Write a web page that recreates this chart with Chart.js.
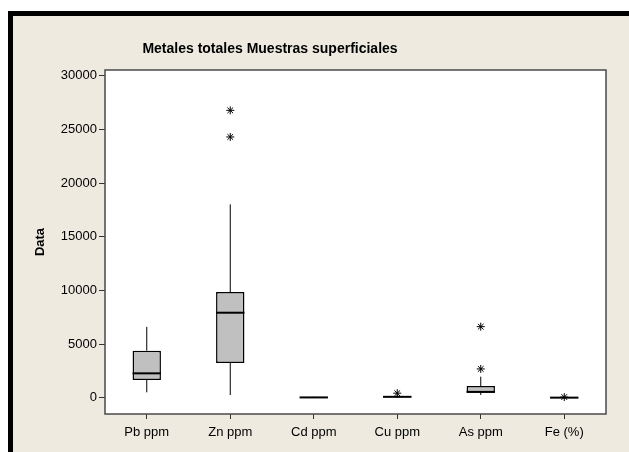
<!DOCTYPE html>
<html>
<head>
<meta charset="utf-8">
<script src="https://cdn.jsdelivr.net/npm/chart.js@4/dist/chart.umd.min.js"></script>
<style>
    html, body {
        margin: 0;
        padding: 0;
        background: #ffffff;
    }
    .frame {
        position: absolute;
        left: 8px;
        top: 11px;
        width: 616px;
        height: 436px;
        background: #eeeae0;
        border-top: 5px solid #000;
        border-left: 5px solid #000;
    }
</style>
</head>
<body>
<div class="frame">
    <canvas id="boxChart"></canvas>
</div>
<script>
/* ====================================
   DATA
==================================== */

const chartTitle = "Metales totales Muestras superficiales";

const categories = ["Pb ppm", "Zn ppm", "Cd ppm", "Cu ppm", "As ppm", "Fe (%)"];

const whiskerLow = [500, 250, 5, 20, 250, 1];
const q1Values = [1650, 3230, 15, 40, 470, 2];
const medianValues = [2270, 7920, 25, 80, 540, 4];
const q3Values = [4380, 9850, 45, 150, 1090, 6];
const whiskerHigh = [6600, 18020, 90, 280, 1960, 9];

const outlierCategories = ["Zn ppm", "Zn ppm", "Cu ppm", "As ppm", "As ppm", "Fe (%)"];
const outlierValues = [26780, 24300, 420, 6620, 2680, 60];

const yTicks = [0, 5000, 10000, 15000, 20000, 25000, 30000];

/* ====================================
   PLUGINS
==================================== */

const plotFrame = {

    id: "plotFrame",

    beforeDatasetsDraw(chart) {

        const { ctx, chartArea: a } = chart;

        ctx.save();
        ctx.fillStyle = "#ffffff";
        ctx.fillRect(a.left, a.top, a.right - a.left, a.bottom - a.top);
        ctx.restore();

    },

    afterDraw(chart) {

        const { ctx, chartArea: a } = chart;

        ctx.save();
        ctx.strokeStyle = "#4a4a4a";
        ctx.lineWidth = 1.5;
        ctx.strokeRect(a.left, a.top, a.right - a.left, a.bottom - a.top);

        // title
        ctx.fillStyle = "#000";
        ctx.font = "bold 14px 'Liberation Sans', Arial, sans-serif";
        ctx.textAlign = "center";
        ctx.textBaseline = "middle";
        ctx.fillText(chartTitle, 257, 33);
        ctx.restore();

    }

};

const boxParts = {

    id: "boxParts",

    afterDatasetsDraw(chart) {

        const { ctx } = chart;
        const y = chart.scales.y;
        const bars = chart.getDatasetMeta(0).data;

        ctx.save();
        ctx.strokeStyle = "#000";

        bars.forEach((bar, i) => {

            const half = bar.width / 2;

            // whiskers
            ctx.lineWidth = 1;
            ctx.beginPath();
            ctx.moveTo(bar.x, y.getPixelForValue(q3Values[i]));
            ctx.lineTo(bar.x, y.getPixelForValue(whiskerHigh[i]));
            ctx.moveTo(bar.x, y.getPixelForValue(q1Values[i]));
            ctx.lineTo(bar.x, y.getPixelForValue(whiskerLow[i]));
            ctx.stroke();

            // median
            const m = y.getPixelForValue(medianValues[i]);
            ctx.lineWidth = 2;
            ctx.beginPath();
            ctx.moveTo(bar.x - half, m);
            ctx.lineTo(bar.x + half, m);
            ctx.stroke();

        });

        ctx.restore();

    }

};

/* ====================================
   CHART
==================================== */

function createBoxChart() {

    const canvas = document.getElementById("boxChart");

    const tickFont = {
        family: "'Liberation Sans', Arial, sans-serif",
        size: 13
    };

    new Chart(canvas, {

        type: "bar",

        data: {

            labels: categories,

            datasets: [
                {
                    type: "bar",
                    data: categories.map((c, i) => [q1Values[i], q3Values[i]]),
                    backgroundColor: "#c0c0c0",
                    borderColor: "#000",
                    borderWidth: 1.5,
                    borderSkipped: false,
                    categoryPercentage: 1,
                    barPercentage: 0.34,
                    order: 2
                },
                {
                    type: "line",
                    data: outlierCategories.map((c, i) => ({ x: c, y: outlierValues[i] })),
                    showLine: false,
                    pointStyle: "star",
                    pointRadius: 4,
                    borderColor: "#000",
                    borderWidth: 1,
                    order: 1
                }
            ]

        },

        options: {

            responsive: true,
            maintainAspectRatio: false,
            animation: false,

            layout: {
                padding: { top: 54, right: 23, left: 0, bottom: 0 }
            },

            plugins: {
                legend: { display: false },
                title: { display: false },
                tooltip: { enabled: false }
            },

            scales: {

                x: {
                    offset: true,
                    grid: {
                        offset: false,
                        drawOnChartArea: false,
                        tickLength: 5,
                        tickColor: "#333",
                        tickWidth: 1
                    },
                    border: { display: false },
                    ticks: {
                        color: "#000",
                        font: tickFont,
                        padding: 6,
                        maxRotation: 0
                    },
                    afterFit(scale) {
                        scale.height = 38;
                    }
                },

                y: {
                    min: -1520,
                    max: 30540,
                    grid: {
                        drawOnChartArea: false,
                        tickLength: 6,
                        tickColor: "#333",
                        tickWidth: 1
                    },
                    border: { display: false },
                    ticks: {
                        color: "#000",
                        font: tickFont,
                        padding: 2,
                        callback: v => String(v)
                    },
                    title: {
                        display: true,
                        text: "Data",
                        color: "#000",
                        font: {
                            family: "'Liberation Sans', Arial, sans-serif",
                            size: 13,
                            weight: "bold"
                        },
                        padding: { top: 20, bottom: 0 }
                    },
                    afterBuildTicks(scale) {
                        scale.ticks = yTicks.map(v => ({ value: v }));
                    },
                    afterFit(scale) {
                        scale.width = 92;
                    }
                }

            }

        },

        plugins: [plotFrame, boxParts]

    });

}

document.addEventListener("DOMContentLoaded", () => {

    createBoxChart();

});
</script>
</body>
</html>
